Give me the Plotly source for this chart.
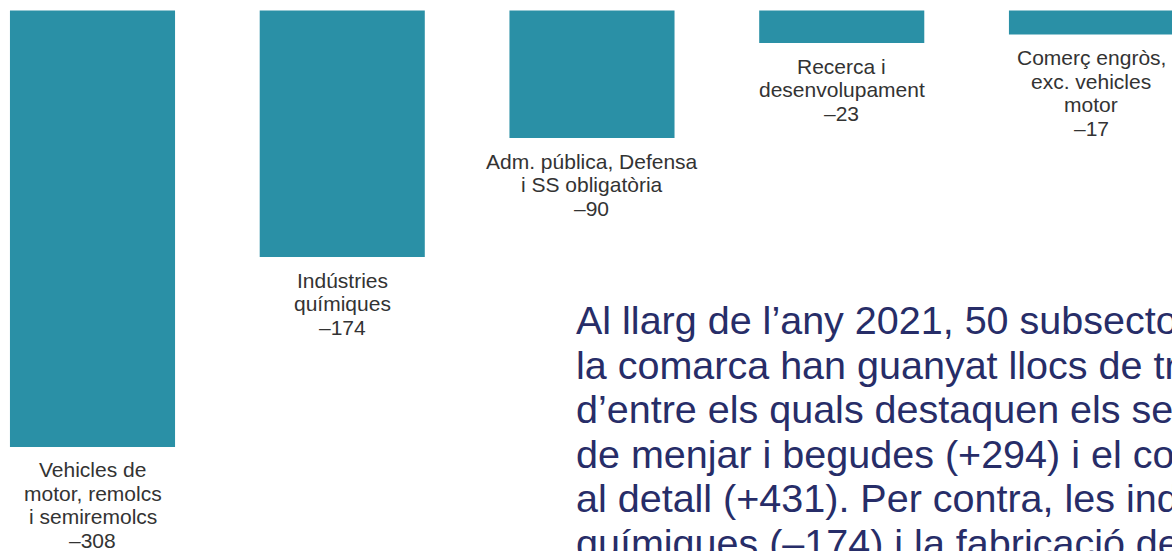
import plotly.graph_objects as go

# ---- data ----
categories = [
    "Vehicles de motor, remolcs i semiremolcs",
    "Indústries químiques",
    "Adm. pública, Defensa i SS obligatòria",
    "Recerca i desenvolupament",
    "Comerç engròs, exc. vehicles motor",
]
label_lines = [
    ["Vehicles de", "motor, remolcs", "i semiremolcs"],
    ["Indústries", "químiques"],
    ["Adm. pública, Defensa", "i SS obligatòria"],
    ["Recerca i", "desenvolupament"],
    ["Comerç engròs,", "exc. vehicles", "motor"],
]
values = [-308, -174, -90, -23, -17]

note_lines = [
    "Al llarg de l’any 2021, 50 subsectors de",
    "la comarca han guanyat llocs de treball,",
    "d’entre els quals destaquen els serveis",
    "de menjar i begudes (+294) i el comerç",
    "al detall (+431). Per contra, les indústries",
    "químiques (–174) i la fabricació de vehicles",
]

# ---- style ----
W, H = 1172, 551
BAR_COLOR = "#2a90a6"
LABEL_COLOR = "#333333"
NOTE_COLOR = "#272d68"
FONT = "Liberation Sans, Arial, Helvetica, sans-serif"
LABEL_SIZE = 21
LABEL_STEP = 23.5
LABEL_FIRST = 23
NOTE_SIZE = 39.5
NOTE_STEP = 44.5
NOTE_X = 574
NOTE_Y0 = 320

x = list(range(len(categories)))

fig = go.Figure()
fig.add_trace(go.Bar(
    x=x, y=values, marker=dict(color=BAR_COLOR, line=dict(width=0)),
    hoverinfo="skip", showlegend=False,
))

annotations = []
for i, (lines, v) in enumerate(zip(label_lines, values)):
    all_lines = lines + ["–" + str(abs(v))]
    for k, t in enumerate(all_lines):
        annotations.append(dict(
            x=i, y=v, xref="x", yref="y", text=t, showarrow=False,
            xanchor="center", yanchor="middle",
            yshift=-(LABEL_FIRST + k * LABEL_STEP),
            font=dict(family=FONT, size=LABEL_SIZE, color=LABEL_COLOR),
        ))

for k, t in enumerate(note_lines):
    ypix = NOTE_Y0 + k * NOTE_STEP
    annotations.append(dict(
        x=NOTE_X / W, y=1 - ypix / H, xref="paper", yref="paper", text=t,
        showarrow=False, xanchor="left", yanchor="middle",
        font=dict(family=FONT, size=NOTE_SIZE, color=NOTE_COLOR),
    ))

fig.update_layout(
    width=W, height=H,
    margin=dict(l=0, r=0, t=0, b=0, pad=0),
    paper_bgcolor="white", plot_bgcolor="white",
    bargap=0.339,
    xaxis=dict(range=[-0.3704, 4.3224], visible=False, fixedrange=True),
    yaxis=dict(range=[-381.4, 7.41], visible=False, fixedrange=True),
    annotations=annotations,
    font=dict(family=FONT),
)

fig.write_html(
    "out.html",
    config={"displayModeBar": False},
    post_script="document.body.style.margin='0';document.documentElement.style.overflow='hidden';",
)
